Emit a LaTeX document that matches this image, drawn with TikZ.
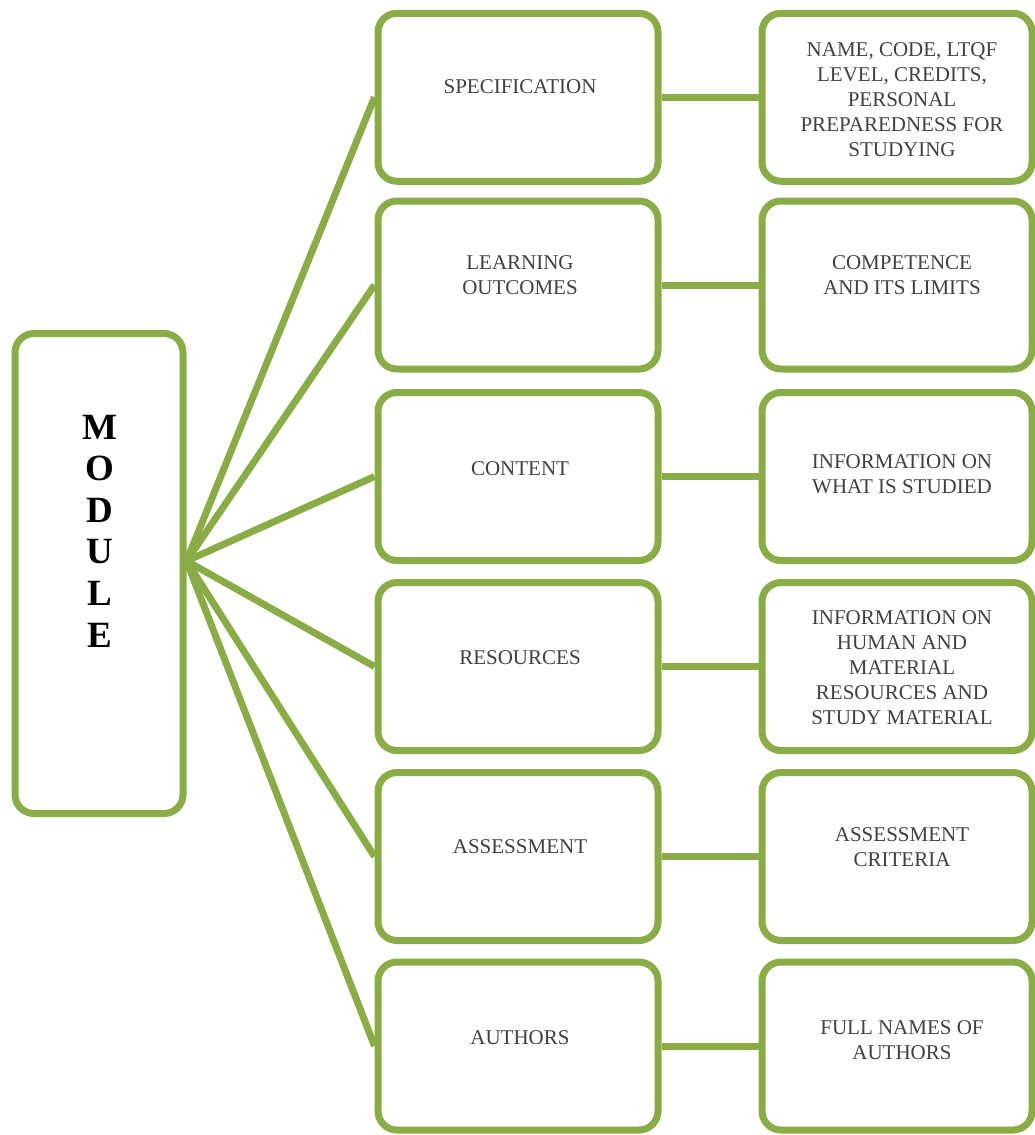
\documentclass[tikz,border=0pt]{standalone}
\usepackage{fontspec}
\setmainfont{Liberation Serif}
\definecolor{grn}{RGB}{138,172,70}
\definecolor{txt}{RGB}{64,64,64}
\begin{document}
\begin{tikzpicture}[x=1pt,y=-1pt,
  box/.style={draw=grn,line width=7pt,rounded corners=19pt,minimum height=168pt,inner sep=0pt},
  mid/.style={box,minimum width=280pt},
  rt/.style={box,minimum width=270pt},
  lbl/.style={text=txt,font=\fontsize{21}{25}\selectfont,align=center,inner sep=0pt},
  con/.style={draw=grn,line width=7pt}]
\useasboundingbox (0,0) rectangle (1035,1135);
% module box
\node[box,minimum width=168pt,minimum height=480pt] (module) at (99,573.5) {};
\node[font=\fontsize{37}{41.6}\selectfont\bfseries,align=center,inner sep=0pt] (mtext) at (100,531) {M\\O\\D\\U\\L\\E};
\coordinate (fan) at ([yshift=12.5pt]module.east);
% middle boxes
\node[mid] (m1) at (518,97.25) {};
\node[mid] (m2) at (518,285) {};
\node[mid] (m3) at (518,476.5) {};
\node[mid] (m4) at (518,666.5) {};
\node[mid] (m5) at (518,856.5) {};
\node[mid] (m6) at (518,1046) {};
% right boxes
\node[rt] (r1) at (897,97.25) {};
\node[rt] (r2) at (897,285) {};
\node[rt] (r3) at (897,476.5) {};
\node[rt] (r4) at (897,666.5) {};
\node[rt] (r5) at (897,856.5) {};
\node[rt] (r6) at (897,1046) {};
% texts middle
\node[lbl] (t1) at (520,87) {SPECIFICATION};
\node[lbl] (t2) at (520,275.5) {LEARNING\\OUTCOMES};
\node[lbl] (t3) at (520,469) {CONTENT};
\node[lbl] (t4) at (520,658) {RESOURCES};
\node[lbl] (t5) at (520,847) {ASSESSMENT};
\node[lbl] (t6) at (520,1038) {AUTHORS};
% texts right
\node[lbl] (u1) at (902,100) {NAME, CODE, LTQF\\LEVEL, CREDITS,\\PERSONAL\\PREPAREDNESS FOR\\STUDYING};
\node[lbl] (u2) at (902,275.5) {COMPETENCE\\AND ITS LIMITS};
\node[lbl] (u3) at (902,474.5) {INFORMATION ON\\WHAT IS STUDIED};
\node[lbl] (u4) at (902,667.5) {INFORMATION ON\\HUMAN AND\\MATERIAL\\RESOURCES AND\\STUDY MATERIAL};
\node[lbl] (u5) at (902,847.5) {ASSESSMENT\\CRITERIA};
\node[lbl] (u6) at (902,1040.5) {FULL NAMES OF\\AUTHORS};
% connectors
\foreach \i in {1,...,6}{
  \draw[con] (fan) -- (m\i.west);
  \draw[con] (m\i.east) -- (r\i.west);
}
\end{tikzpicture}
\end{document}
